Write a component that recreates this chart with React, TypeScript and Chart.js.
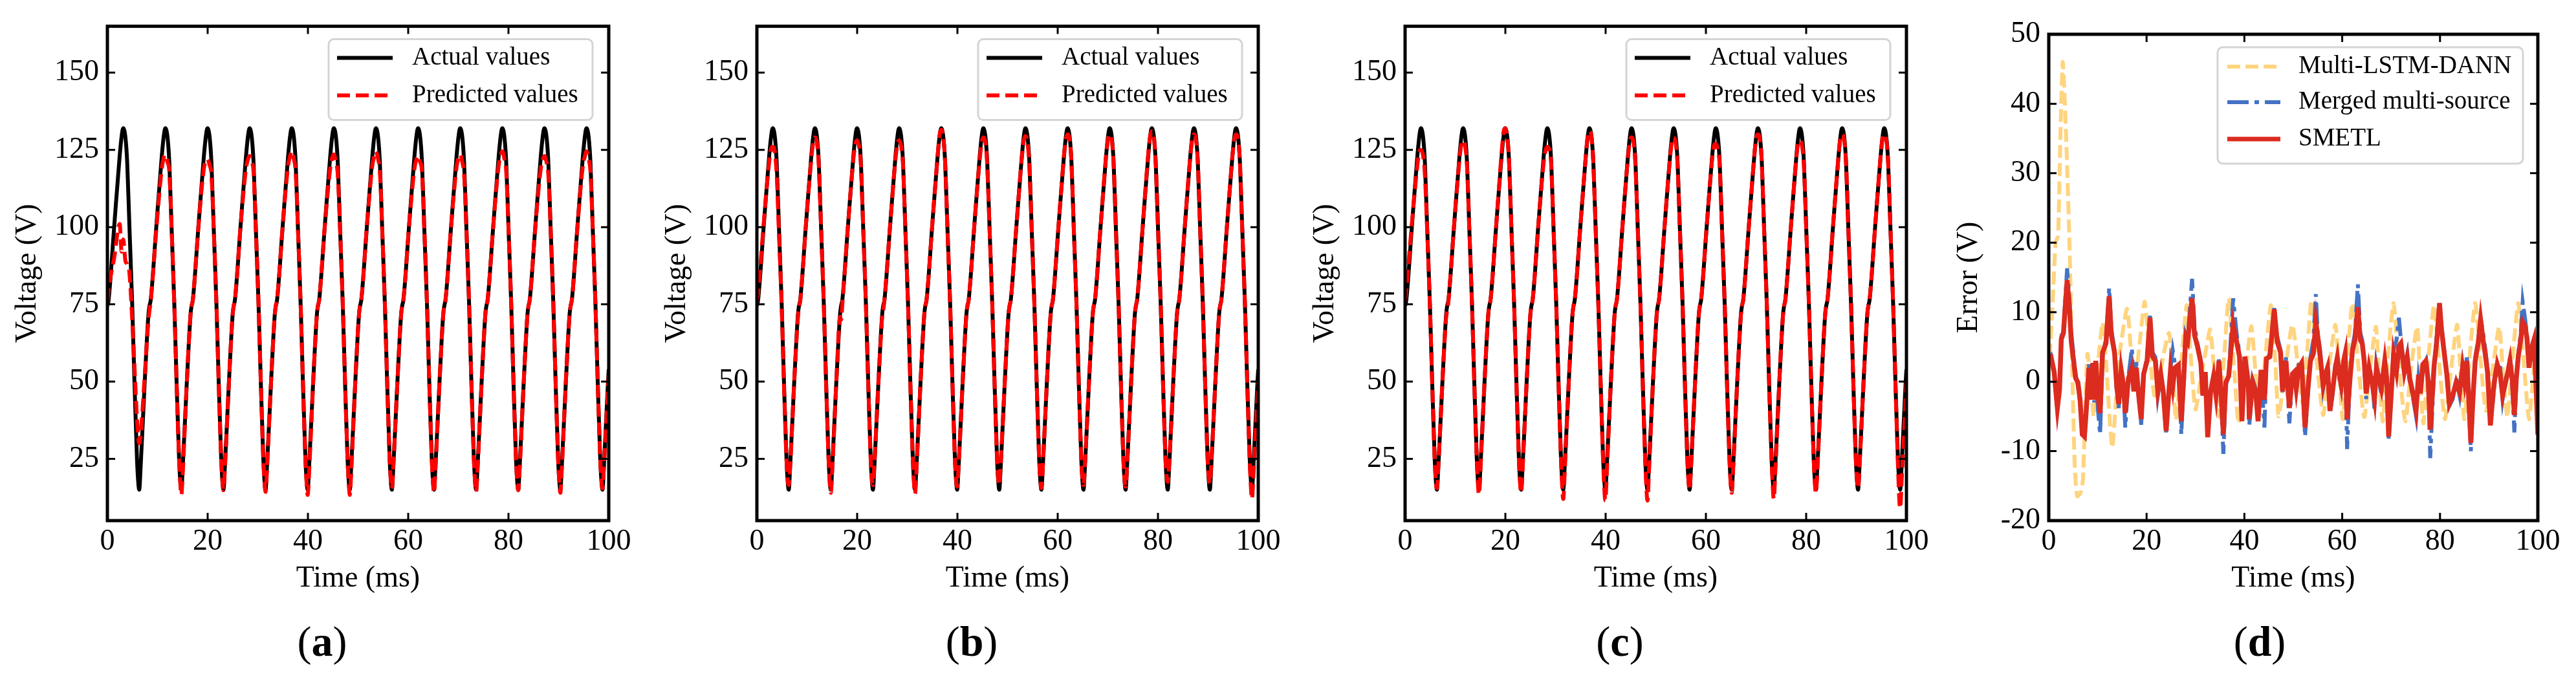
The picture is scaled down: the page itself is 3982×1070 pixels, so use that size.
import React, { useEffect, useRef } from 'react';
import { Chart, registerables } from 'chart.js';

Chart.register(...registerables);

const FONT = "'Liberation Serif', 'Times New Roman', serif";

// ---------- tick labels ----------
const X_TICKS = [0, 20, 40, 60, 80, 100];
const V_TICKS = [25, 50, 75, 100, 125, 150];
const E_TICKS = [-20, -10, 0, 10, 20, 30, 40, 50];

// ---------- voltage panels (a)-(c): time in ms ----------
const TIME = [
  0, 0.25, 1.35, 2.45, 2.85,
  3.15, 3.6, 3.95, 4.4, 4.95, 5.4, 5.9, 6.2, 6.35, 6.65, 7.45, 8.2, 8.4, 8.65, 9.75, 10.85, 11.25,
  11.55, 12, 12.35, 12.8, 13.35, 13.8, 14.3, 14.6, 14.75, 15.05, 15.85, 16.6, 16.8, 17.05, 18.15, 19.25, 19.65,
  19.95, 20.4, 20.75, 21.2, 21.75, 22.2, 22.7, 23, 23.15, 23.45, 24.25, 25, 25.2, 25.45, 26.55, 27.65, 28.05,
  28.35, 28.8, 29.15, 29.6, 30.15, 30.6, 31.1, 31.4, 31.55, 31.85, 32.65, 33.4, 33.6, 33.85, 34.95, 36.05, 36.45,
  36.75, 37.2, 37.55, 38, 38.55, 39, 39.5, 39.8, 39.95, 40.25, 41.05, 41.8, 42, 42.25, 43.35, 44.45, 44.85,
  45.15, 45.6, 45.95, 46.4, 46.95, 47.4, 47.9, 48.2, 48.35, 48.65, 49.45, 50.2, 50.4, 50.65, 51.75, 52.85, 53.25,
  53.55, 54, 54.35, 54.8, 55.35, 55.8, 56.3, 56.6, 56.75, 57.05, 57.85, 58.6, 58.8, 59.05, 60.15, 61.25, 61.65,
  61.95, 62.4, 62.75, 63.2, 63.75, 64.2, 64.7, 65, 65.15, 65.45, 66.25, 67, 67.2, 67.45, 68.55, 69.65, 70.05,
  70.35, 70.8, 71.15, 71.6, 72.15, 72.6, 73.1, 73.4, 73.55, 73.85, 74.65, 75.4, 75.6, 75.85, 76.95, 78.05, 78.45,
  78.75, 79.2, 79.55, 80, 80.55, 81, 81.5, 81.8, 81.95, 82.25, 83.05, 83.8, 84, 84.25, 85.35, 86.45, 86.85,
  87.15, 87.6, 87.95, 88.4, 88.95, 89.4, 89.9, 90.2, 90.35, 90.65, 91.45, 92.2, 92.4, 92.65, 93.75, 94.85, 95.25,
  95.55, 96, 96.35, 96.8, 97.35, 97.8, 98.3, 98.6, 98.75, 99.05, 99.85, 100,
];

const ACTUAL = [
  74.5, 76.5, 100, 123, 129.5,
  132, 129, 121, 100, 75, 50, 25, 16.5, 15, 23, 50, 72, 74.5, 76.5, 100, 123, 129.5,
  132, 129, 121, 100, 75, 50, 25, 16.5, 15, 23, 50, 72, 74.5, 76.5, 100, 123, 129.5,
  132, 129, 121, 100, 75, 50, 25, 16.5, 15, 23, 50, 72, 74.5, 76.5, 100, 123, 129.5,
  132, 129, 121, 100, 75, 50, 25, 16.5, 15, 23, 50, 72, 74.5, 76.5, 100, 123, 129.5,
  132, 129, 121, 100, 75, 50, 25, 16.5, 15, 23, 50, 72, 74.5, 76.5, 100, 123, 129.5,
  132, 129, 121, 100, 75, 50, 25, 16.5, 15, 23, 50, 72, 74.5, 76.5, 100, 123, 129.5,
  132, 129, 121, 100, 75, 50, 25, 16.5, 15, 23, 50, 72, 74.5, 76.5, 100, 123, 129.5,
  132, 129, 121, 100, 75, 50, 25, 16.5, 15, 23, 50, 72, 74.5, 76.5, 100, 123, 129.5,
  132, 129, 121, 100, 75, 50, 25, 16.5, 15, 23, 50, 72, 74.5, 76.5, 100, 123, 129.5,
  132, 129, 121, 100, 75, 50, 25, 16.5, 15, 23, 50, 72, 74.5, 76.5, 100, 123, 129.5,
  132, 129, 121, 100, 75, 50, 25, 16.5, 15, 23, 50, 72, 74.5, 76.5, 100, 123, 129.5,
  132, 129, 121, 100, 75, 50, 25, 16.5, 15, 23, 50, 54,
];

const PRED_A = [
  76, 80, 90, 101, 92,
  96, 89, 88, 85, 70, 55, 38, 31, 30, 33, 52, 70, 73, 76, 99, 119, 122.5,
  123.4, 121, 118, 100, 75, 50, 25, 15.5, 13.3, 21, 50, 72, 74.5, 76.5, 100, 119, 121.5,
  122, 120, 117, 100, 75, 50, 25, 16.5, 14.8, 22, 50, 72, 74.5, 76.5, 100, 119, 122,
  123, 121, 118, 100, 75, 50, 25, 16, 14.3, 22, 50, 72, 74.5, 76.5, 100, 120, 123,
  124.5, 122, 118, 100, 75, 50, 25, 15.5, 13.3, 21, 50, 72, 74.5, 76.5, 100, 119, 122.5,
  123.5, 121, 117, 100, 75, 50, 25, 15.5, 13.3, 21, 50, 72, 74.5, 76.5, 100, 120, 123,
  124.5, 122, 118, 100, 75, 50, 25, 17, 15.4, 23, 50, 72, 74.5, 76.5, 100, 119, 122,
  123, 121, 118, 100, 75, 50, 25, 16, 14, 22, 50, 72, 74.5, 76.5, 100, 119.5, 122.5,
  123.5, 121, 117, 100, 75, 50, 25, 16, 14.3, 22, 50, 72, 74.5, 76.5, 100, 120, 123,
  124.5, 122, 118, 100, 75, 50, 25, 16.5, 14.8, 22, 50, 72, 74.5, 76.5, 100, 119, 122,
  123, 121, 117, 100, 75, 50, 25, 16, 14, 22, 50, 72, 74.5, 76.5, 100, 120, 123,
  124.5, 122, 118, 100, 75, 50, 25, 17, 15.4, 23, 48, 52,
];

const PRED_B = [
  76, 79, 101, 121, 125.5,
  126, 124, 117, 98, 74, 49, 25, 17.5, 16.5, 23, 50, 71, 74, 76, 100, 122, 127.5,
  129, 127, 120, 100, 75, 50, 25, 15.5, 14, 22, 50, 71, 70, 75, 100, 122, 127,
  128, 126, 120, 100, 75, 50, 25, 17.5, 16.5, 24, 50, 71, 73, 76.5, 100, 122, 127,
  128, 126, 120, 100, 75, 50, 25, 15.5, 13.7, 22, 50, 72, 74.5, 76.5, 100, 123, 130,
  131.5, 129, 121, 100, 75, 50, 25, 17, 16, 23, 50, 72, 74.5, 76.5, 100, 122, 127.5,
  129, 127, 120, 100, 75, 50, 25, 17.5, 16.5, 24, 50, 72, 74.5, 76.5, 100, 122.5, 128,
  129.5, 127, 120, 100, 75, 50, 25, 17, 15.5, 23, 50, 72, 74.5, 76.5, 100, 123, 128.5,
  130, 128, 121, 100, 75, 50, 25, 17.5, 16.5, 24, 50, 72, 74.5, 76.5, 100, 123, 128.5,
  130, 128, 121, 100, 75, 50, 25, 17, 16, 23, 50, 72, 74.5, 76.5, 100, 123.5, 129.5,
  131, 129, 121, 100, 75, 50, 25, 18.5, 17.5, 24, 50, 72, 74.5, 76.5, 100, 123, 128.5,
  130, 128, 121, 100, 75, 50, 25, 18, 17, 24, 50, 72, 74.5, 76.5, 100, 123, 128.5,
  130, 128, 121, 100, 75, 50, 24, 14, 12, 20, 45, 50,
];

const PRED_C = [
  76, 80, 101, 120, 124.5,
  125, 123, 117, 99, 75, 50, 25, 16.5, 15.5, 23, 50, 71, 73, 76, 100, 122, 127,
  128, 126, 120, 100, 75, 50, 25, 15, 13.5, 22, 50, 72, 74.5, 76.5, 100, 124, 131,
  132, 129, 121, 100, 75, 50, 25, 15.5, 14, 22, 50, 72, 74.5, 76.5, 100, 121, 125,
  126, 125, 120, 100, 75, 50, 25, 14, 12, 21, 50, 72, 74.5, 76.5, 100, 123, 130,
  131, 129, 121, 100, 75, 50, 24, 13.5, 11.5, 21, 50, 72, 74.5, 76.5, 100, 122.5, 128,
  129, 127, 120, 100, 75, 50, 24, 13.5, 11.5, 21, 50, 72, 74.5, 76.5, 100, 122.5, 128,
  129, 127, 120, 100, 75, 50, 25, 16.5, 15, 23, 50, 72, 74.5, 76.5, 100, 122, 126.5,
  127, 125, 120, 100, 75, 50, 25, 15.5, 14, 22, 50, 72, 74.5, 76.5, 100, 123, 129,
  130, 128, 121, 100, 75, 50, 25, 14, 12, 21, 50, 72, 74.5, 76.5, 100, 122.5, 127.5,
  128, 126, 120, 100, 75, 50, 25, 15.5, 14, 22, 50, 72, 74.5, 76.5, 100, 123, 129,
  130, 128, 121, 100, 75, 50, 25, 17, 15.5, 23, 50, 72, 74.5, 76.5, 100, 123, 129,
  130, 128, 121, 100, 75, 50, 23, 11, 9, 18, 44, 50,
];

// ---------- error panel (d) ----------
const ERR_T = [
  0, 0.44, 1.1, 1.76, 2.2, 2.56, 3.0, 3.75, 4.2, 4.6,
  5.5, 5.95, 6.4, 6.85, 7.3, 7.7, 8.2, 8.6, 9.0, 9.3,
  9.6, 10.05, 10.5, 11.0, 11.7, 12.35, 12.8, 13.45, 13.9, 14.3,
  14.8, 15.2, 15.65, 16.3, 17.0, 17.4, 17.9, 18.3, 18.9, 19.4,
  20.1, 20.7, 21.2, 21.8, 22.3, 22.9, 23.4, 24.0, 24.5, 24.9,
  25.35, 25.8, 26.5, 27.1, 27.6, 28.0, 28.4, 29.3, 29.8, 30.4,
  31.1, 31.5, 32.0, 32.5, 33.1, 33.7, 34.2, 34.8, 35.3, 35.7,
  36.2, 36.8, 37.7, 38.4, 39.0, 39.5, 40.1, 40.8, 41.0, 41.7,
  42.3, 42.8, 43.4, 44.1, 44.5, 45.2, 46.1, 46.7, 47.4, 47.8,
  48.5, 49.2, 49.8, 50.2, 50.6, 51.1, 51.7, 52.4, 53.0, 53.5,
  54.1, 54.6, 55.0, 55.5, 56.1, 56.6, 57.0, 57.5, 58.0, 58.6,
  59.0, 59.4, 59.8, 60.3, 60.6, 61.0, 61.6, 62.1, 62.6, 63.2,
  63.7, 64.1, 64.5, 64.9, 65.5, 66.1, 66.6, 67.0, 67.4, 68.0,
  68.7, 69.1, 69.5, 70.0, 70.5, 71.1, 71.6, 72.0, 72.7, 73.3,
  73.8, 74.4, 75.1, 75.6, 76.0, 76.5, 77.1, 77.6, 78.0, 78.8,
  79.3, 79.9, 80.3, 80.8, 81.4, 81.9, 82.6, 83.3, 84.0, 84.6,
  85.0, 85.5, 86.3, 86.8, 87.2, 87.8, 88.3, 88.8, 89.2, 89.7,
  90.3, 90.8, 91.2, 91.7, 92.3, 92.8, 93.4, 93.9, 94.3, 94.8,
  95.2, 95.6, 96.0, 96.5, 96.9, 97.4, 97.8, 98.2, 98.7, 99.2,
  99.6, 100,
];

const ERR_SMETL = [
  3.5, 3.6, 1.4, -3.8, -1.1, 6.1, 7.0, 14.6, 11.0, 5.8,
  0.5, -0.1, -2.6, -7.6, -7.9, -3.8, 2.0, -2.6, 2.7, -2.6,
  3.0, -2.0, -4.5, 4.2, 5.5, 12.3, 6.7, 4.2, -0.7, -3.2,
  1.7, -0.1, -4.5, 0.5, 2.0, -1.4, 2.0, -1.4, -5.4, 1.1,
  3.0, 9.2, 3.6, 3.0, -1.4, 1.1, -1.4, -7.1, -2.0, 1.7,
  -0.7, 2.0, 2.4, -5.7, 0.5, 6.4, 5.8, 12.0, 6.7, 5.1,
  2.7, -2.0, 1.4, -8.0, -1.4, 0.8, -2.0, 3.0, -2.6, -7.6,
  -0.1, 0.8, 8.2, 5.8, 3.6, -5.7, 3.6, -0.1, -5.4, -0.1,
  -1.4, -5.7, 1.7, -2.6, 3.3, 3.6, 10.4, 5.8, 4.2, -1.4,
  3.0, -3.8, 1.1, 1.4, -1.0, 2.0, 2.7, -6.6, -1.0, 3.0,
  4.0, 8.6, 6.5, 3.6, -0.5, 1.1, 2.0, -4.2, -1.5, 2.0,
  3.5, 1.1, -0.5, 3.0, 4.0, -5.4, 0.5, 4.5, 6.0, 10.7,
  6.0, 5.5, 3.0, -1.7, 2.0, -0.1, -2.5, 2.0, 0.8, -1.0,
  3.0, 0.5, -7.9, -2.0, 3.9, 1.5, 5.1, 5.5, 1.4, 3.5,
  0.5, -1.5, -4.2, 1.0, -1.7, 2.5, 3.0, 0.0, -6.9, 2.4,
  5.5, 11.3, 7.5, 4.5, 1.0, -3.2, -2.0, -0.1, -1.5, 2.0,
  0.0, 3.0, -8.8, -1.5, 3.0, 5.5, 8.9, 6.0, 4.2, 1.5,
  -6.3, -2.0, 0.5, 2.5, 1.1, -2.0, -0.1, 1.5, 3.0, 0.0,
  -4.8, 0.5, 3.6, 6.0, 8.6, 8.0, 6.1, 2.0, 4.8, 6.0,
  0.0, -7.6,
];

const ERR_MERGED = [
  3.5, 3.8, 1.5, -4.0, -1.0, 6.5, 7.5, 16.3, 12.0, 7.0,
  1.0, -0.5, -3.0, -7.3, -7.8, -4.0, 2.5, -2.5, 3.0, -3.0,
  3.2, -4.0, -7.6, 4.0, 6.0, 13.5, 7.5, 4.5, -1.5, -3.8,
  1.5, -0.5, -6.6, 0.8, 4.8, -1.0, 2.8, -1.5, -6.2, 1.2,
  3.5, 9.5, 4.2, 3.5, -2.0, 1.0, -1.5, -7.3, -2.0, 2.0,
  4.5, 2.5, 2.5, -7.6, 0.5, 6.8, 6.0, 14.8, 8.0, 5.5,
  3.0, -2.0, 1.2, -7.8, -1.5, 0.8, -2.0, 3.2, -3.5, -10.4,
  -0.5, 1.0, 12.0, 7.0, 4.0, -5.0, 3.3, 0.0, -6.3, 0.3,
  -1.0, -5.5, 1.5, -6.6, 3.0, 4.0, 10.6, 6.5, 4.5, -1.5,
  3.5, -6.0, 1.0, 1.0, -1.5, 2.5, 3.0, -7.9, -1.5, 3.5,
  6.0, 12.6, 7.0, 4.5, -1.0, 1.0, 1.5, -4.5, -2.0, 2.5,
  3.0, 0.5, -1.0, 2.5, 3.5, -9.7, 1.0, 5.0, 7.0, 14.0,
  7.0, 6.0, 2.5, -2.5, 1.5, 0.5, -4.0, 2.5, 1.0, -2.0,
  3.5, 0.5, -8.2, -2.0, 4.5, 6.0, 9.2, 6.0, 2.0, 4.0,
  0.0, -2.0, -5.0, 0.5, -1.5, 2.0, 3.0, 0.0, -11.0, 2.0,
  6.5, 11.3, 8.0, 5.0, 1.0, -3.5, -2.5, 0.5, -2.0, 2.5,
  0.5, 3.5, -10.0, -2.0, 3.5, 6.0, 9.2, 7.0, 5.0, 2.0,
  -5.0, -3.0, 0.0, 2.0, 2.0, -2.5, 0.5, 1.0, 3.5, -1.0,
  -7.3, 0.0, 4.0, 7.0, 11.5, 9.0, 6.5, 2.0, 4.0, 5.0,
  0.0, -7.0,
];

const DANN_T = [
  0, 0.4, 0.9, 1.4, 1.9, 2.4, 2.85, 3.3, 3.8, 4.3,
  4.8, 5.3, 5.8, 6.5, 7.0, 7.4, 7.9, 8.5, 9.2, 10.0,
  11.0, 11.8, 12.4, 13.0, 13.8, 14.5, 16.0, 17.0, 17.8, 18.5,
  19.6, 20.5, 21.6, 22.5, 23.5, 24.6, 25.4, 26.0, 27.0, 28.2,
  29.0, 30.0, 31.0, 32.0, 33.0, 34.0, 34.8, 36.0, 36.8, 37.9,
  38.8, 40.0, 41.4, 42.3, 43.0, 44.2, 45.4, 46.3, 47.0, 48.2,
  49.8, 51.0, 51.9, 52.8, 53.7, 54.8, 56.1, 57.3, 58.6, 59.4,
  60.1, 61.0, 62.1, 63.2, 64.5, 65.7, 66.9, 67.6, 68.3, 69.4,
  70.5, 71.5, 72.9, 74.1, 75.3, 76.0, 76.6, 77.7, 78.8, 79.8,
  81.0, 82.3, 83.5, 84.3, 85.0, 86.1, 87.2, 88.3, 89.4, 90.8,
  92.1, 93.0, 93.8, 94.9, 96.0, 97.1, 98.2, 99.2, 100,
];

const ERR_DANN = [
  1, 6, 13, 20, 21, 36, 46, 40, 30, 18,
  2, -12, -16.5, -16, -14, -5, 4, 1, -5, 2,
  8.5, 2, -5, -9.5, -2, 4, 10.5, 3, 1, 5,
  11.5, 5, -2, 0, 4, 7, 1, -5.5, 2, 11,
  4, -4, 0, 4, 7.5, 0, -5, 5, 12, 2,
  -6, 0, 8, 1, -5, 3, 11, 3, -5, 1,
  8.2, 2, -3, 4, 11.7, 3, -4.8, 2, 8.2, 1,
  -5.4, 3, 11.3, 3, -5.1, 2, 7.9, 0, -5.7, 4,
  11.3, 3, -5.7, 2, 7.9, 0, -6, 4, 11, 3,
  -5.4, 2, 8.2, 0, -5.4, 4, 11.3, 3, -4.2, 2,
  7.9, 0, -5.1, 4, 11.3, 3, -5.4, 2, 6.7,
];

// ---------- helpers ----------
const pts = (xs: number[], ys: number[]) => xs.map((x, i) => ({ x, y: ys[i] }));

const framePlugin = {
  id: 'frameTicks',
  afterDatasetsDraw(chart: any, _args: any, opts: any) {
    const { ctx, chartArea } = chart;
    const { left, right, top, bottom } = chartArea;
    const xs = chart.scales.x;
    const ys = chart.scales.y;
    ctx.save();
    ctx.setLineDash([]);
    ctx.strokeStyle = '#000';
    ctx.lineWidth = 3;
    ctx.beginPath();
    for (const v of opts.xTicks) {
      const px = xs.getPixelForValue(v);
      ctx.moveTo(px, bottom);
      ctx.lineTo(px, bottom - 12);
      ctx.moveTo(px, top);
      ctx.lineTo(px, top + 12);
    }
    for (const v of opts.yTicks) {
      const py = ys.getPixelForValue(v);
      ctx.moveTo(left, py);
      ctx.lineTo(left + 12, py);
      ctx.moveTo(right, py);
      ctx.lineTo(right - 12, py);
    }
    ctx.stroke();
    ctx.lineWidth = 5;
    ctx.strokeRect(left, top, right - left, bottom - top);

    const lg = opts.legend;
    if (lg) {
      ctx.beginPath();
      ctx.roundRect(left + lg.x, top + lg.y, lg.w, lg.h, 8);
      ctx.fillStyle = 'rgba(255,255,255,0.85)';
      ctx.fill();
      ctx.lineWidth = 3;
      ctx.strokeStyle = '#d4d4d4';
      ctx.stroke();
      ctx.font = `39px ${FONT}`;
      ctx.textBaseline = 'middle';
      ctx.textAlign = 'left';
      for (const it of lg.items) {
        const yy = top + it.y;
        ctx.beginPath();
        ctx.setLineDash(it.dash || []);
        ctx.lineWidth = it.width;
        ctx.strokeStyle = it.color;
        ctx.moveTo(left + lg.lineX0, yy);
        ctx.lineTo(left + lg.lineX1, yy);
        ctx.stroke();
        ctx.setLineDash([]);
        ctx.fillStyle = '#000';
        ctx.fillText(it.label, left + lg.textX, yy);
      }
    }
    ctx.restore();
  },
};

const H = 1070;
const Y_AXIS_W = 160;

type Panel = {
  left: number;
  plotW: number;
  top: number;
  bottom: number;
  padRight: number;
  yMin: number;
  yMax: number;
  yTicks: number[];
  yTitle: string;
  datasets: any[];
  legend: any;
};

function makeConfig(p: Panel): any {
  const font = { family: FONT, size: 46 };
  return {
    type: 'line',
    data: { datasets: p.datasets },
    options: {
      animation: false,
      responsive: false,
      devicePixelRatio: 1,
      layout: { padding: { left: 0, right: p.padRight, top: p.top, bottom: 0 } },
      elements: { point: { radius: 0 } },
      plugins: {
        legend: { display: false },
        tooltip: { enabled: false },
        frameTicks: { xTicks: X_TICKS, yTicks: p.yTicks, legend: p.legend },
      },
      scales: {
        x: {
          type: 'linear',
          min: 0,
          max: 100,
          afterBuildTicks: (s: any) => {
            s.ticks = X_TICKS.map((v) => ({ value: v }));
          },
          afterFit: (s: any) => {
            s.height = H - p.bottom;
          },
          grid: { display: false, drawTicks: false },
          border: { display: false },
          ticks: { font, color: '#000', padding: 5, maxRotation: 0, autoSkip: false },
          title: { display: true, text: 'Time (ms)', font, color: '#000', padding: { top: 0, bottom: 147 } },
        },
        y: {
          type: 'linear',
          min: p.yMin,
          max: p.yMax,
          afterBuildTicks: (s: any) => {
            s.ticks = p.yTicks.map((v) => ({ value: v }));
          },
          afterFit: (s: any) => {
            s.width = Y_AXIS_W;
          },
          grid: { display: false, drawTicks: false },
          border: { display: false },
          ticks: { font, color: '#000', padding: 13, autoSkip: false },
          title: { display: true, text: p.yTitle, font, color: '#000', padding: { top: 9, bottom: 0 } },
        },
      },
    },
    plugins: [framePlugin],
  };
}

function voltageDatasets(pred: number[]) {
  return [
    {
      data: pts(TIME, pred),
      borderColor: '#ff0000',
      borderWidth: 6,
      borderDash: [20, 9],
      pointRadius: 0,
      cubicInterpolationMode: 'monotone',
      order: 0,
    },
    {
      data: pts(TIME, ACTUAL),
      borderColor: '#000000',
      borderWidth: 6,
      pointRadius: 0,
      cubicInterpolationMode: 'monotone',
      order: 1,
    },
  ];
}

const V_LEGEND = {
  x: 342,
  y: 20,
  w: 408,
  h: 125,
  lineX0: 355,
  lineX1: 441,
  textX: 471,
  items: [
    { label: 'Actual values', color: '#000', width: 6, dash: [], y: 49 },
    { label: 'Predicted values', color: '#ff0000', width: 6, dash: [20, 9], y: 107 },
  ],
};

const YELLOW = '#ffd47f';
const BLUE = '#4472c4';
const RED = '#dc2b1f';

const E_LEGEND = {
  x: 261,
  y: 20,
  w: 472,
  h: 180,
  lineX0: 276,
  lineX1: 358,
  textX: 386,
  items: [
    { label: 'Multi-LSTM-DANN', color: YELLOW, width: 6, dash: [20, 8], y: 50 },
    { label: 'Merged multi-source', color: BLUE, width: 6, dash: [33, 9, 7, 9], y: 105 },
    { label: 'SMETL', color: RED, width: 7, dash: [], y: 162 },
  ],
};

const PANELS: Panel[] = [
  { left: 166, plotW: 775, top: 37, bottom: 805, padRight: 60, yMin: 5, yMax: 165, yTicks: V_TICKS, yTitle: 'Voltage (V)', datasets: voltageDatasets(PRED_A), legend: V_LEGEND },
  { left: 1170, plotW: 775, top: 37, bottom: 805, padRight: 60, yMin: 5, yMax: 165, yTicks: V_TICKS, yTitle: 'Voltage (V)', datasets: voltageDatasets(PRED_B), legend: V_LEGEND },
  { left: 2172, plotW: 775, top: 37, bottom: 805, padRight: 60, yMin: 5, yMax: 165, yTicks: V_TICKS, yTitle: 'Voltage (V)', datasets: voltageDatasets(PRED_C), legend: V_LEGEND },
  {
    left: 3167,
    plotW: 756,
    top: 53,
    bottom: 805,
    padRight: 58,
    yMin: -20,
    yMax: 50,
    yTicks: E_TICKS,
    yTitle: 'Error (V)',
    legend: E_LEGEND,
    datasets: [
      { data: pts(ERR_T, ERR_SMETL), borderColor: RED, borderWidth: 7.5, pointRadius: 0, tension: 0, order: 0 },
      { data: pts(ERR_T, ERR_MERGED), borderColor: BLUE, borderWidth: 6, borderDash: [33, 9, 7, 9], pointRadius: 0, tension: 0, order: 1 },
      { data: pts(DANN_T, ERR_DANN), borderColor: YELLOW, borderWidth: 6, borderDash: [20, 8], pointRadius: 0, tension: 0.2, order: 2 },
    ],
  },
];

const SUB_LABELS = [
  { text: 'a', cx: 498 },
  { text: 'b', cx: 1502 },
  { text: 'c', cx: 2504 },
  { text: 'd', cx: 3493 },
];

function ChartPanel({ p }: { p: Panel }) {
  const ref = useRef<HTMLCanvasElement>(null);
  const w = p.plotW + Y_AXIS_W + p.padRight;
  useEffect(() => {
    if (!ref.current) return;
    const chart = new Chart(ref.current, makeConfig(p));
    return () => chart.destroy();
  }, []);
  return (
    <canvas
      ref={ref}
      width={w}
      height={H}
      style={{ position: 'absolute', left: p.left - Y_AXIS_W, top: 0, width: w, height: H }}
    />
  );
}

export default function App() {
  return (
    <div
      style={{
        position: 'absolute',
        left: 0,
        top: 0,
        width: 3982,
        height: 1070,
        background: '#ffffff',
        overflow: 'hidden',
      }}
    >
      {PANELS.map((p, i) => (
        <ChartPanel key={i} p={p} />
      ))}
      {SUB_LABELS.map((s) => (
        <div
          key={s.text}
          style={{
            position: 'absolute',
            left: s.cx - 100,
            top: 959,
            width: 200,
            textAlign: 'center',
            fontFamily: FONT,
            fontSize: 66,
            lineHeight: 1,
            color: '#000',
          }}
        >
          (<b>{s.text}</b>)
        </div>
      ))}
    </div>
  );
}
